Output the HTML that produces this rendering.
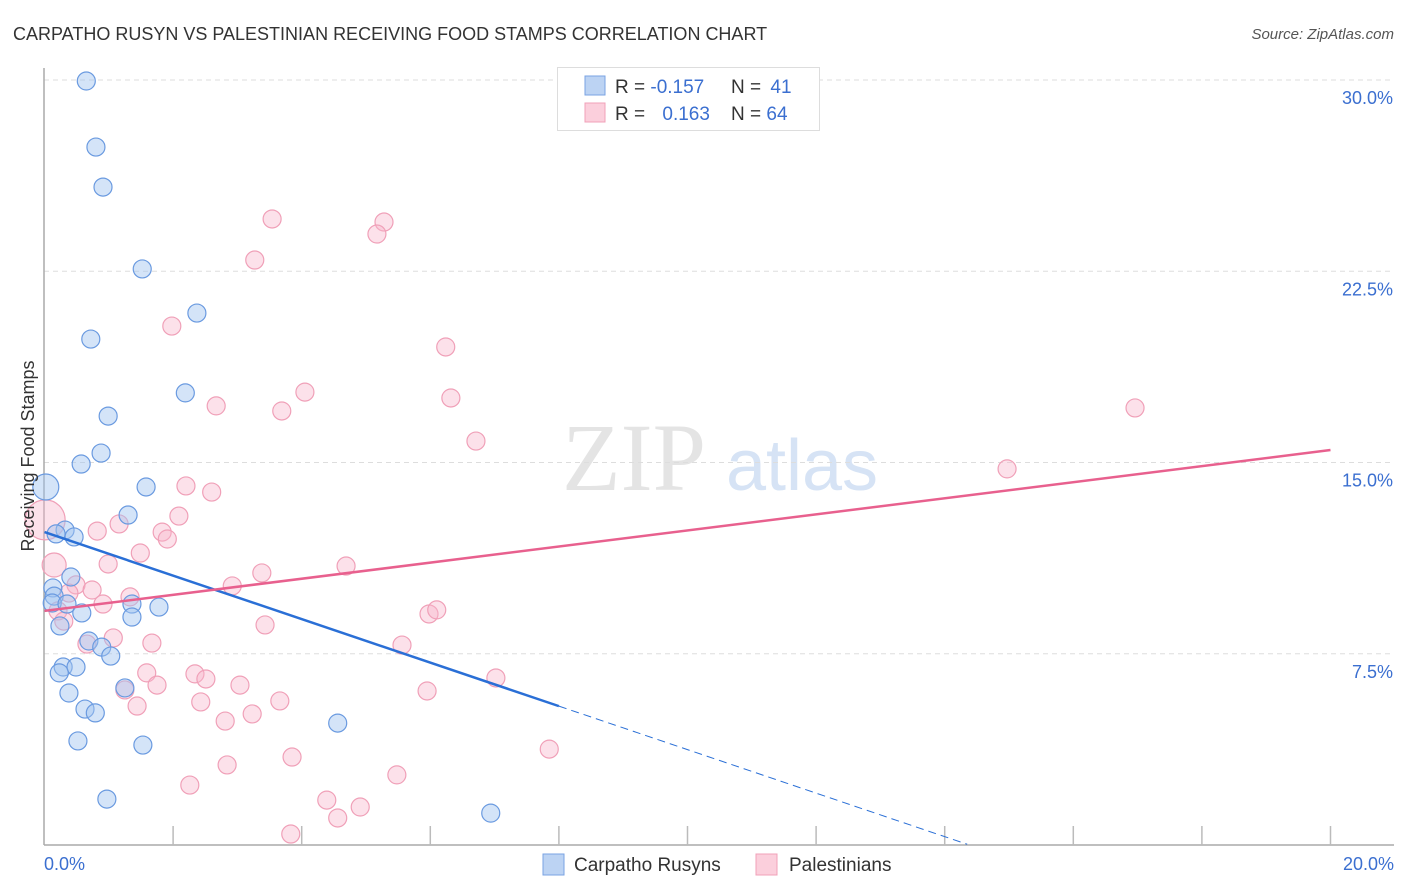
<!DOCTYPE html>
<html><head><meta charset="utf-8">
<style>
body{margin:0;background:#fff;font-family:"Liberation Sans",sans-serif;}
svg{display:block}
</style></head>
<body>
<svg id="chart" width="1406" height="892" viewBox="0 0 1406 892">
  <text x="13" y="40" font-size="18" fill="#333">CARPATHO RUSYN VS PALESTINIAN RECEIVING FOOD STAMPS CORRELATION CHART</text>
  <text x="1394" y="39" font-size="15" fill="#555" font-style="italic" text-anchor="end">Source: ZipAtlas.com</text>
  <g>
    <text x="634" y="490" font-size="96" font-family="Liberation Serif, serif" fill="#e4e4e4" text-anchor="middle">ZIP</text>
    <text x="802" y="490" font-size="72" fill="#d6e3f5" text-anchor="middle">atlas</text>
  </g>
  <g id="grid"></g>
  <g id="axes"></g>
  <g id="points"></g>
  <g id="trends"></g>
  <text transform="translate(34,456) rotate(-90)" font-size="18" fill="#333" text-anchor="middle">Receiving Food Stamps</text>
  <text x="44" y="870" font-size="18" fill="#3b6fd0">0.0%</text>
  <text x="1394" y="870" font-size="18" fill="#3b6fd0" text-anchor="end">20.0%</text>
  <g>
    <rect x="557.5" y="67.5" width="262" height="63" fill="#fff" stroke="#ddd"/>
    <rect x="585" y="76" width="20" height="19" fill="#bcd3f3" stroke="#7aa3e3"/>
    <rect x="585" y="103" width="20" height="19" fill="#fbcfdc" stroke="#f0a0b8"/>
    <text x="615" y="93" font-size="19" fill="#333">R = <tspan fill="#3b6fd0">-0.157</tspan></text>
    <text x="731" y="93" font-size="19" fill="#333">N = <tspan fill="#3b6fd0" dx="4">41</tspan></text>
    <text x="615" y="120" font-size="19" fill="#333">R = <tspan fill="#3b6fd0" dx="12">0.163</tspan></text>
    <text x="731" y="120" font-size="19" fill="#333">N = <tspan fill="#3b6fd0">64</tspan></text>
  </g>
  <g>
    <rect x="543" y="854" width="21" height="21" fill="#bcd3f3" stroke="#7aa3e3"/>
    <text x="574" y="871" font-size="19" fill="#333">Carpatho Rusyns</text>
    <rect x="756" y="854" width="21" height="21" fill="#fbcfdc" stroke="#f0a0b8"/>
    <text x="789" y="871" font-size="19" fill="#333">Palestinians</text>
  </g>
</svg>
<script>
const yTicks=[7.5,15,22.5,30];
const yTickLabels=["7.5%","15.0%","22.5%","30.0%"];
const xTicks=[0,2,4,6,8,10,12,14,16,18,20];
const blueX=[0.65,0.80,0.91,1.52,2.37,0.72,2.19,0.99,0.88,0.57,0.02,1.58,1.30,0.32,0.18,0.46,0.41,0.13,0.15,0.12,0.35,0.58,1.36,1.36,1.78,0.69,0.89,0.24,1.03,0.29,0.49,0.23,0.38,1.25,0.63,0.79,4.56,0.52,1.53,0.97,6.94];
const blueY=[29.96,27.37,25.80,22.59,20.86,19.84,17.73,16.82,15.37,14.94,14.04,14.04,12.94,12.35,12.20,12.08,10.51,10.08,9.76,9.49,9.45,9.10,9.45,8.94,9.33,8.00,7.76,8.59,7.41,6.98,6.98,6.75,5.96,6.16,5.33,5.18,4.78,4.08,3.92,1.80,1.25];
const blueR=[9,9,9,9,9,9,9,9,9,9,13,9,9,9,9,9,9,9,9,9,9,9,9,9,9,9,9,9,9,9,9,9,9,9,9,9,9,9,9,9,9];
const pinkX=[3.54,5.28,5.17,3.27,1.98,6.24,4.05,2.67,6.32,3.69,16.96,6.71,14.97,2.20,2.60,2.09,1.16,0.82,1.83,1.91,1.49,0.01,0.15,0.99,3.38,4.69,0.49,0.74,0.38,1.33,0.91,0.21,2.92,0.30,1.07,0.66,1.67,3.43,5.98,6.10,5.56,1.59,2.34,2.51,1.75,3.04,7.02,1.25,2.43,3.66,5.95,1.44,3.23,2.81,7.85,3.85,2.84,5.48,2.26,4.39,4.91,4.56,3.83];
const pinkY=[24.55,24.43,23.96,22.94,20.35,19.53,17.76,17.22,17.53,17.02,17.14,15.84,14.75,14.08,13.84,12.90,12.59,12.31,12.27,12.00,11.45,12.75,10.98,11.02,10.67,10.94,10.20,10.00,9.88,9.73,9.45,9.18,10.16,8.78,8.12,7.88,7.92,8.63,9.06,9.22,7.84,6.75,6.71,6.51,6.27,6.27,6.55,6.08,5.61,5.65,6.04,5.45,5.14,4.86,3.76,3.45,3.14,2.75,2.35,1.76,1.49,1.06,0.43];
const pinkR=[9,9,9,9,9,9,9,9,9,9,9,9,9,9,9,9,9,9,9,9,9,20,12,9,9,9,9,9,9,9,9,9,9,9,9,9,9,9,9,9,9,9,9,9,9,9,9,9,9,9,9,9,9,9,9,9,9,9,9,9,9,9,9];
const blueTrend=[12.27,-0.853]; // intercept, slope
const blueSolidEnd=8;
const blueDashEnd=14.35;
const pinkTrend=[9.18,0.3155];

const NS="http://www.w3.org/2000/svg";
const xs=v=>44.5+v*64.3;
const ys=v=>845-v*25.5;
function mk(tag,attrs,parent){const e=document.createElementNS(NS,tag);for(const k in attrs)e.setAttribute(k,attrs[k]);parent.appendChild(e);return e;}
const grid=document.getElementById('grid'),axes=document.getElementById('axes'),pts=document.getElementById('points'),tr=document.getElementById('trends');
yTicks.forEach((t,i)=>{
  const l=mk('line',{x1:44,x2:1394,y1:ys(t),y2:ys(t),stroke:'#ddd','stroke-dasharray':'5,4'},grid);
  
  
  const tx=mk('text',{x:1393,y:ys(t)+24,'font-size':18,fill:'#3b6fd0','text-anchor':'end'},grid);
  tx.textContent=yTickLabels[i];
  
  
});
const ya=mk('line',{x1:44,x2:44,y1:68,y2:845,stroke:'#aaa','stroke-width':1.5},axes);


const xa=mk('line',{x1:44,x2:1394,y1:845,y2:845,stroke:'#aaa','stroke-width':1.5},axes);


xTicks.forEach(t=>{if(t===0)return;
  const l=mk('line',{x1:xs(t),x2:xs(t),y1:826,y2:845,stroke:'#bbb','stroke-width':1.5},axes);
  
  
});
pinkX.forEach((x,i)=>{
  const c=mk('circle',{cx:xs(x),cy:ys(pinkY[i]),r:pinkR[i],fill:'rgba(247,180,203,0.4)',stroke:'#f0a0b8','stroke-width':1.2},pts);
  
  
});
blueX.forEach((x,i)=>{
  const c=mk('circle',{cx:xs(x),cy:ys(blueY[i]),r:blueR[i],fill:'rgba(160,196,240,0.45)',stroke:'#6a9ae0','stroke-width':1.2},pts);
  
  
});
const bf=v=>blueTrend[0]+blueTrend[1]*v, pf=v=>pinkTrend[0]+pinkTrend[1]*v;
const b1=mk('line',{x1:xs(0),y1:ys(bf(0)),x2:xs(blueSolidEnd),y2:ys(bf(blueSolidEnd)),stroke:'#2a6fd6','stroke-width':2.5},tr);


const b2=mk('line',{x1:xs(blueSolidEnd),y1:ys(bf(blueSolidEnd)),x2:xs(blueDashEnd),y2:ys(bf(blueDashEnd)),stroke:'#2a6fd6','stroke-width':1,'stroke-dasharray':'8,5'},tr);


const p1=mk('line',{x1:xs(0),y1:ys(pf(0)),x2:xs(20),y2:ys(pf(20)),stroke:'#e8608e','stroke-width':2.5},tr);


</script>
</body></html>
